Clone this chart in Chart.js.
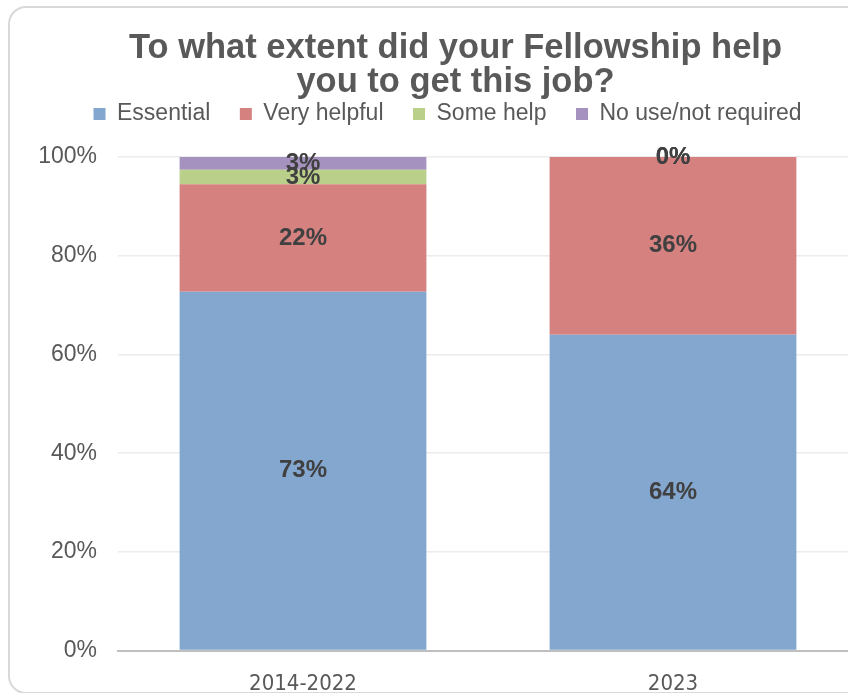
<!DOCTYPE html>
<html>
<head>
<meta charset="utf-8">
<title>Fellowship help</title>
<script src="https://cdn.jsdelivr.net/npm/chart.js@4"></script>
<style>
  html, body { margin: 0; padding: 0; background: #fff; overflow: hidden; }
  #card {
    position: absolute; left: 8px; top: 6px;
    width: 896px; height: 684px;
    border: 2px solid #d9d9d9; border-radius: 18px;
    overflow: hidden;
  }
  #wrap { position: relative; width: 896px; height: 710px; }
</style>
</head>
<body>
<div id="card"><div id="wrap"><canvas id="fellowChart"></canvas></div></div>
<script>
// data (percent of respondents)
const periods = ['2014-2022', '2023'];
const seriesNames = ['Essential', 'Very helpful', 'Some help', 'No use/not required'];
const essential = [72.7, 64.0];
const veryHelpful = [21.8, 36.0];
const someHelp = [2.9, 0];
const noUse = [2.6, 0];
const yTicks = [0, 20, 40, 60, 80, 100];

const seriesValues = [essential, veryHelpful, someHelp, noUse];
const seriesColors = ['#84a7d0', '#d48180', '#bacf8a', '#a592bf'];

const sans = '"Liberation Sans", Arial, sans-serif';
const narrow = '"Liberation Sans Narrow", "Arial Narrow", "DejaVu Sans Condensed", sans-serif';

// labels in the middle of each segment
const segmentLabels = {
    id: 'segmentLabels',
    afterDatasetsDraw(chart) {
        const ctx = chart.ctx;
        ctx.save();
        ctx.font = 'bold 24px ' + sans;
        ctx.fillStyle = '#404040';
        ctx.textAlign = 'center';
        ctx.textBaseline = 'middle';
        chart.data.datasets.forEach((ds, i) => {
            chart.getDatasetMeta(i).data.forEach((bar, j) => {
                const y = (bar.y + bar.base) / 2;
                ctx.fillText(Math.round(ds.data[j]) + '%', bar.x, y);
            });
        });
        ctx.restore();
    }
};

// more room between legend and plot, title a bit to the right
const headerLayout = {
    id: 'headerLayout',
    beforeLayout(chart) {
        const legend = chart.legend;
        if (!legend || legend._spaced) return;
        const fit = legend.fit;
        legend.fit = function () {
            fit.call(this);
            this.height = 84;
        };
        legend._spaced = true;
    },
    afterLayout(chart) {
        const title = chart.titleBlock;
        if (title) {
            title.left += 8;
            title.right += 8;
        }
    }
};

const ctx = document.getElementById('fellowChart').getContext('2d');
new Chart(ctx, {
    type: 'bar',
    data: {
        labels: periods,
        datasets: seriesNames.map((name, i) => ({
            label: name,
            data: seriesValues[i],
            backgroundColor: seriesColors[i],
            borderWidth: 0,
            barPercentage: 0.667,
            categoryPercentage: 1
        }))
    },
    options: {
        responsive: true,
        maintainAspectRatio: false,
        animation: false,
        layout: { padding: { left: 27, right: 48, top: 0, bottom: 1 } },
        plugins: {
            title: {
                display: true,
                text: ['To what extent did your Fellowship help', 'you to get this job?'],
                color: '#595959',
                font: { family: sans, size: 34.5, weight: 'bold', lineHeight: 1.0 },
                padding: { top: 23, bottom: -27 }
            },
            legend: {
                display: true,
                labels: {
                    color: '#595959',
                    font: { family: sans, size: 23 },
                    boxWidth: 12,
                    boxHeight: 12,
                    padding: 29.5
                }
            },
            tooltip: { enabled: false }
        },
        scales: {
            x: {
                stacked: true,
                grid: { display: false, drawTicks: false },
                border: { display: true, color: '#bfbfbf', width: 2 },
                ticks: {
                    color: '#595959',
                    font: { family: narrow, size: 22 },
                    padding: 20
                }
            },
            y: {
                stacked: true,
                min: 0,
                max: 100,
                afterBuildTicks: (axis) => { axis.ticks = yTicks.map((v) => ({ value: v })); },
                afterFit: (axis) => { axis.width = 81; },
                grid: { color: '#ececec', lineWidth: 1.5, drawTicks: false },
                border: { display: false },
                ticks: {
                    color: '#595959',
                    font: { family: sans, size: 23 },
                    padding: 21,
                    callback: (v) => v + '%'
                }
            }
        }
    },
    plugins: [segmentLabels, headerLayout]
});
</script>
</body>
</html>
